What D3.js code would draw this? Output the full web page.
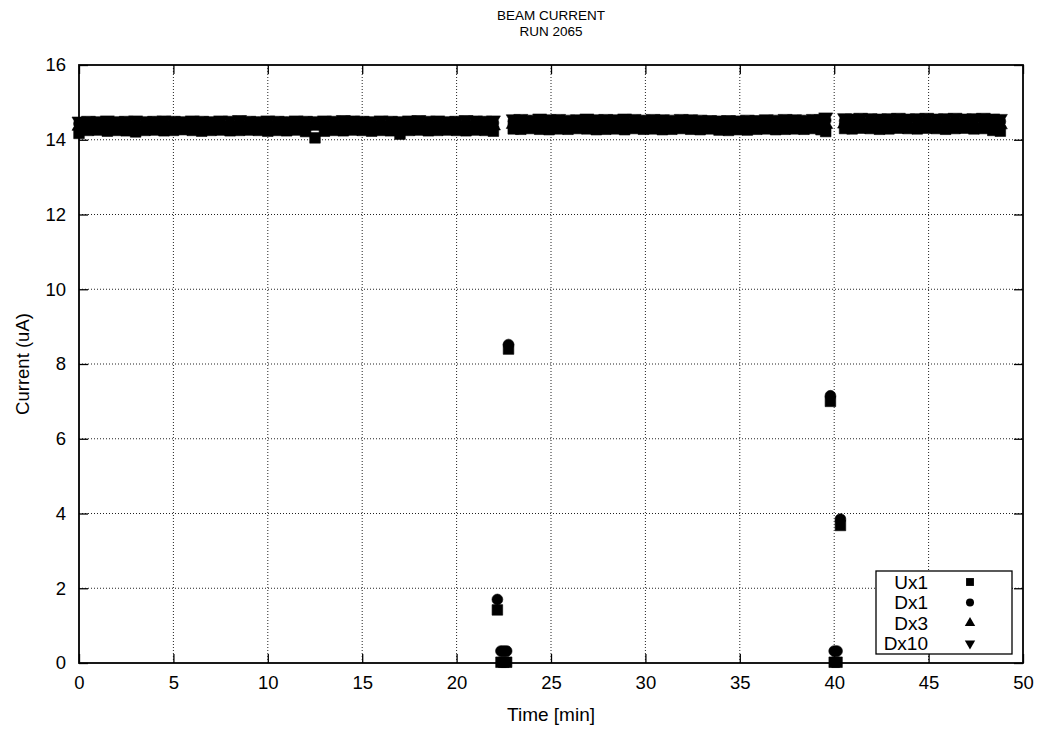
<!DOCTYPE html>
<html>
<head>
<meta charset="utf-8">
<script src="https://cdn.jsdelivr.net/npm/d3@7"></script>
<style>
body{margin:0;background:#fff}
svg{font-family:"Liberation Sans",Arial,Helvetica,sans-serif}
</style>
</head>
<body>
<svg id="drawing_region"></svg>
<script>
// sample times [min]
const minutes = [
    0,0.5,1,1.5,2,2.5,3,3.5,4,4.5,5,5.5,6,6.5,7,7.5,8,8.5,9,9.5,10,10.5,11,11.5,12,12.5,13,13.5,14,14.5,15,15.5,16,16.5,17,17.5,18,18.5,19,19.5,20,20.5,21,21.5,21.95,
    22.16,22.35,22.5,22.65,22.75,
    23.0,23.4,23.9,24.4,24.9,25.4,25.9,26.4,26.9,27.4,27.9,28.4,28.9,29.4,29.9,30.4,30.9,31.4,31.9,32.4,32.9,33.4,33.9,34.4,34.9,35.4,35.9,36.4,36.9,37.4,37.9,38.4,38.9,39.3,39.55,
    39.8,40.0,40.15,40.33,
    40.55,40.95,41.4,41.9,42.4,42.9,43.4,43.9,44.4,44.9,45.4,45.9,46.4,46.9,47.4,47.9,48.4,48.8
]
const ux1 = [
    14.17,14.25,14.26,14.23,14.25,14.24,14.21,14.25,14.26,14.24,14.25,14.27,14.25,14.23,14.25,14.26,14.24,14.25,14.26,14.25,14.23,14.25,14.24,14.26,14.22,14.05,14.23,14.25,14.24,14.26,14.25,14.23,14.25,14.24,14.15,14.25,14.26,14.24,14.25,14.26,14.25,14.24,14.26,14.25,14.23,
    1.42,0.02,0.02,0.02,8.40,
    14.29,14.28,14.30,14.28,14.27,14.29,14.28,14.30,14.29,14.27,14.28,14.29,14.27,14.30,14.28,14.29,14.27,14.28,14.30,14.28,14.27,14.29,14.26,14.25,14.27,14.26,14.28,14.29,14.27,14.28,14.29,14.28,14.30,14.27,14.22,
    7.00,0.02,0.02,3.68,
    14.30,14.29,14.31,14.30,14.28,14.29,14.31,14.30,14.29,14.31,14.30,14.28,14.30,14.31,14.29,14.30,14.25,14.23
]
const dx1 = [
    14.43,14.45,14.44,14.46,14.44,14.45,14.43,14.44,14.46,14.45,14.44,14.45,14.46,14.44,14.45,14.44,14.43,14.45,14.44,14.46,14.45,14.44,14.46,14.45,14.44,14.43,14.45,14.44,14.45,14.46,14.44,14.45,14.43,14.44,14.45,14.44,14.46,14.45,14.44,14.45,14.46,14.44,14.45,14.46,14.45,
    1.70,0.32,0.32,0.32,8.52,
    14.49,14.48,14.50,14.48,14.49,14.50,14.48,14.49,14.51,14.48,14.49,14.50,14.48,14.49,14.50,14.48,14.49,14.48,14.50,14.49,14.48,14.47,14.46,14.47,14.46,14.47,14.48,14.49,14.48,14.49,14.50,14.49,14.48,14.50,14.52,
    7.15,0.32,0.32,3.85,
    14.50,14.52,14.51,14.50,14.52,14.51,14.50,14.52,14.51,14.50,14.51,14.52,14.50,14.51,14.52,14.51,14.50,14.49
]
const dx3 = [
    14.36,14.38,14.37,14.39,14.36,14.37,14.38,14.37,14.36,14.38,14.37,14.39,14.37,14.36,14.38,14.37,14.38,14.36,14.37,14.39,14.38,14.37,14.36,14.38,14.37,14.36,14.38,14.37,14.39,14.37,14.36,14.38,14.37,14.36,14.38,14.37,14.39,14.38,14.37,14.36,14.38,14.37,14.39,14.38,14.37,
    null,null,null,null,null,
    14.41,14.40,14.42,14.41,14.40,14.42,14.41,14.40,14.42,14.41,14.40,14.41,14.42,14.40,14.41,14.42,14.40,14.41,14.40,14.42,14.41,14.40,14.39,14.38,14.39,14.40,14.41,14.40,14.42,14.41,14.40,14.41,14.42,14.40,14.41,
    null,null,null,null,
    14.42,14.43,14.42,14.41,14.43,14.42,14.43,14.41,14.42,14.43,14.42,14.41,14.43,14.42,14.41,14.43,14.42,14.40
]
const dx10 = [
    14.50,14.52,14.51,14.53,14.51,14.52,14.53,14.51,14.52,14.53,14.52,14.51,14.53,14.52,14.51,14.53,14.52,14.54,14.52,14.51,14.53,14.52,14.51,14.53,14.52,14.51,14.53,14.52,14.54,14.53,14.52,14.51,14.53,14.52,14.51,14.53,14.54,14.52,14.53,14.51,14.52,14.54,14.53,14.52,14.53,
    null,null,null,null,null,
    14.56,14.57,14.55,14.58,14.56,14.57,14.55,14.56,14.58,14.56,14.57,14.56,14.58,14.57,14.55,14.57,14.56,14.55,14.57,14.56,14.55,14.54,14.53,14.54,14.53,14.55,14.54,14.56,14.55,14.57,14.56,14.55,14.57,14.56,14.61,
    null,null,null,null,
    14.59,14.58,14.60,14.59,14.58,14.59,14.60,14.58,14.59,14.60,14.58,14.59,14.60,14.58,14.59,14.60,14.58,14.57
]
const series_names = ["Ux1","Dx1","Dx3","Dx10"]
const x_ticks = [0,5,10,15,20,25,30,35,40,45,50]
const y_ticks = [0,2,4,6,8,10,12,14,16]

class Scatter_chart{
    constructor(config){
        this.config = config
        this.series = [
            {name:series_names[0],values:ux1,type:d3.symbolSquare,size:112,rot:0},
            {name:series_names[1],values:dx1,type:d3.symbolCircle,size:92,rot:0},
            {name:series_names[2],values:dx3,type:d3.symbolTriangle,size:85,rot:0},
            {name:series_names[3],values:dx10,type:d3.symbolTriangle,size:85,rot:180}
        ]
        this.init()
    }
    init(){
        let self = this
        const m = self.config.margin
        self.inner_width = self.config.width-m.left-m.right
        self.inner_height = self.config.height-m.top-m.bottom

        self.svg = d3.select(self.config.parent)
            .attr("width",self.config.width)
            .attr("height",self.config.height)

        self.chart = self.svg.append("g")
            .attr("transform",`translate(${m.left},${m.top})`)

        self.xscale = d3.scaleLinear().domain([0,50]).range([0,self.inner_width])
        self.yscale = d3.scaleLinear().domain([0,16]).range([self.inner_height,0])
    }
    render(){
        let self = this
        const W = self.inner_width, H = self.inner_height

        // grid
        const grid = self.chart.append("g")
            .attr("stroke","#222")
            .attr("stroke-width",1)
            .attr("stroke-dasharray","1,2")
        grid.selectAll(".gx").data(x_ticks.slice(1,-1)).enter().append("line")
            .attr("x1",d=>self.xscale(d)).attr("x2",d=>self.xscale(d))
            .attr("y1",0).attr("y2",H)
        grid.selectAll(".gy").data(y_ticks.slice(1,-1)).enter().append("line")
            .attr("x1",0).attr("x2",W)
            .attr("y1",d=>self.yscale(d)).attr("y2",d=>self.yscale(d))

        // axes, ticks pointing inward on all four sides
        const fs = "18.5px"
        const xb = self.chart.append("g").attr("transform",`translate(0,${H})`)
            .call(d3.axisBottom(self.xscale).tickValues(x_ticks).tickSize(-9).tickPadding(13).tickFormat(d3.format("d")))
        const yl = self.chart.append("g")
            .call(d3.axisLeft(self.yscale).tickValues(y_ticks).tickSize(-9).tickPadding(13).tickFormat(d3.format("d")))
        const xt = self.chart.append("g")
            .call(d3.axisTop(self.xscale).tickValues(x_ticks).tickSize(-9).tickFormat(""))
        const yr = self.chart.append("g").attr("transform",`translate(${W},0)`)
            .call(d3.axisRight(self.yscale).tickValues(y_ticks).tickSize(-9).tickFormat(""))
        ;[xb,yl,xt,yr].forEach(g=>{
            g.select(".domain").remove()
            g.selectAll("line").attr("stroke","#000").attr("stroke-width",1.3)
            g.selectAll("text").attr("font-size",fs).attr("fill","#000")
                .attr("font-family","'Liberation Sans',Arial,sans-serif")
        })

        // points
        self.series.forEach(s=>{
            const sym = d3.symbol().type(s.type).size(s.size)
            self.chart.append("g").selectAll("path")
                .data(minutes.map((t,i)=>({t:t,v:s.values[i]})).filter(d=>d.v!==null))
                .enter()
                .append("path")
                .attr("d",sym)
                .attr("transform",d=>`translate(${self.xscale(d.t)},${self.yscale(d.v)}) rotate(${s.rot})`)
                .attr("fill","#000")
                .attr("stroke","#000")
                .attr("stroke-width",0.6)
        })

        // border
        self.chart.append("rect")
            .attr("x",0).attr("y",0).attr("width",W).attr("height",H)
            .attr("fill","none").attr("stroke","#000").attr("stroke-width",1.8)

        // legend
        const lg = self.svg.append("g").attr("transform","translate(876,571)")
        lg.append("rect")
            .attr("width",136).attr("height",83)
            .attr("fill","#fff").attr("stroke","#000").attr("stroke-width",1.3)
        const rows = lg.selectAll(".row").data(self.series).enter().append("g")
            .attr("transform",(d,i)=>`translate(0,${11+i*20.5})`)
        rows.append("text")
            .attr("x",52).attr("dy","0.36em")
            .attr("text-anchor","end")
            .attr("font-size","19px")
            .text(d=>d.name)
        rows.append("path")
            .attr("d",d=>d3.symbol().type(d.type).size(d.size*0.55)())
            .attr("transform",d=>`translate(94,0) rotate(${d.rot})`)
            .attr("fill","#000")

        // titles
        const cx = self.config.margin.left+W/2
        self.svg.append("text").attr("x",cx).attr("y",20)
            .attr("text-anchor","middle").attr("font-size","13.5px").text("BEAM CURRENT")
        self.svg.append("text").attr("x",cx).attr("y",36)
            .attr("text-anchor","middle").attr("font-size","13.5px").text("RUN 2065")
        self.svg.append("text").attr("x",cx).attr("y",721)
            .attr("text-anchor","middle").attr("font-size","19px").text("Time [min]")
        self.svg.append("text")
            .attr("transform",`translate(29,${self.config.margin.top+H/2}) rotate(-90)`)
            .attr("text-anchor","middle").attr("font-size","18.5px").text("Current (uA)")
    }
}

const config = {
    parent:"#drawing_region",
    width:1041,
    height:733,
    margin:{top:65,right:18,bottom:70,left:79}
}
const chart = new Scatter_chart(config)
chart.render()
</script>
</body>
</html>
